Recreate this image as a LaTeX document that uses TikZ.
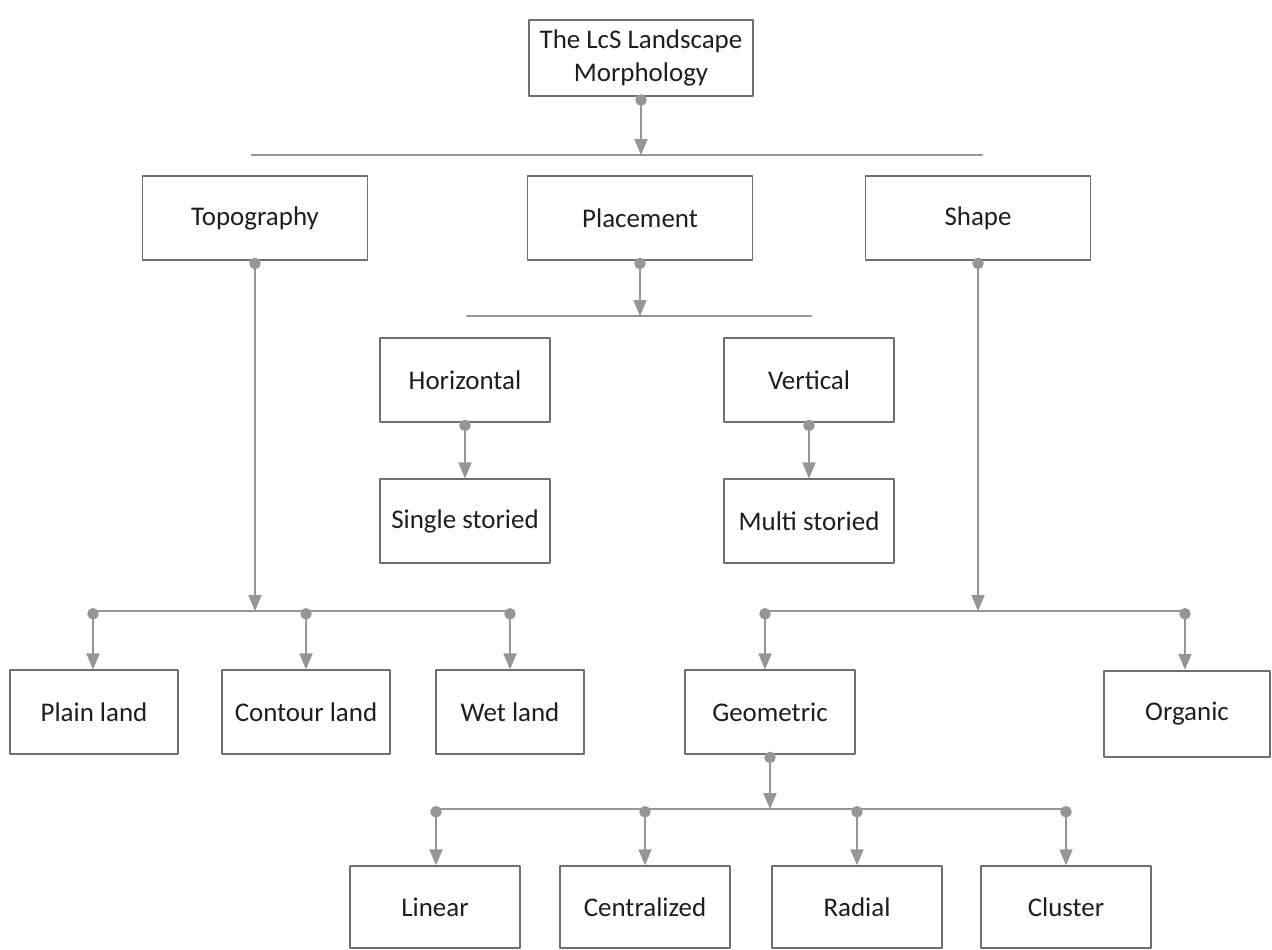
\documentclass[tikz,border=0pt]{standalone}
\usepackage{fontspec}
\setmainfont{Carlito}
\usepackage{tikz}
\usetikzlibrary{arrows}
\definecolor{boxgray}{RGB}{112,112,112}
\definecolor{linkgray}{RGB}{150,150,150}
\definecolor{textdark}{RGB}{30,30,30}
\begin{document}
\begin{tikzpicture}[line cap=round,line join=round,>=triangle 45,x=0.03cm,y=-0.03cm,
  box/.style={draw=boxgray,line width=1.6pt,fill=white,text=textdark,minimum width=5.1cm,minimum height=2.5cm,align=center,font=\fontsize{23}{28}\selectfont},
  wide/.style={minimum width=6.75cm},
  link/.style={draw=linkgray,line width=2.2pt,*->,shorten <=-2.5pt},
  bus/.style={draw=linkgray,line width=2.2pt}]
\useasboundingbox (0,0) rectangle (1272,949);
% first level
\node[box,minimum width=6.7cm,minimum height=2.3cm] (root) at (641,58) {The LcS Landscape\\Morphology};
\coordinate (busA1) at (252,155);
\coordinate (busA2) at (982,155);
\draw[bus] (busA1) -- (busA2);
\draw[link] (root.south) -- (root.south |- busA1);
\node[box,wide] (topo) at (255,218) {Topography};
\node[box,wide] (place) at (640,218) {Placement};
\node[box,wide] (shape) at (978,218) {Shape};
% placement
\coordinate (busB1) at (467,316);
\coordinate (busB2) at (811,316);
\draw[bus] (busB1) -- (busB2);
\draw[link] (place.south) -- (place.south |- busB1);
\node[box] (horiz) at (465,380) {Horizontal};
\node[box] (vert) at (809,380) {Vertical};
\node[box] (single) at (465,521) {Single storied};
\node[box] (multi) at (809,521) {Multi storied};
\draw[link] (horiz) -- (single);
\draw[link] (vert) -- (multi);
% topography
\coordinate (busC1) at (93,611);
\coordinate (busC2) at (510,611);
\coordinate (busC3) at (306,611);
\draw[bus] (busC1) -- (busC2);
\draw[link] (topo.south) -- (topo.south |- busC1);
\node[box,minimum width=5.05cm] (plain) at (94,712) {Plain land};
\node[box,minimum width=5.05cm] (contour) at (306,712) {Contour land};
\node[box,minimum width=4.45cm] (wet) at (510,712) {Wet land};
\draw[link] (busC1) -- (busC1 |- plain.north);
\draw[link] (busC3) -- (busC3 |- contour.north);
\draw[link] (busC2) -- (busC2 |- wet.north);
% shape
\coordinate (busD1) at (765,611);
\coordinate (busD2) at (1185,611);
\draw[bus] (busD1) -- (busD2);
\draw[link] (shape.south) -- (shape.south |- busD1);
\node[box] (geom) at (770,712) {Geometric};
\node[box,minimum width=5cm,minimum height=2.6cm] (organic) at (1187,714) {Organic};
\draw[link] (busD1) -- (busD1 |- geom.north);
\draw[link] (busD2) -- (busD2 |- organic.north);
% geometric
\coordinate (busE1) at (436,809);
\coordinate (busE2) at (645,809);
\coordinate (busE3) at (857,809);
\coordinate (busE4) at (1066,809);
\draw[bus] (busE1) -- (busE4);
\draw[link] (geom.south) -- (geom.south |- busE1);
\node[box,minimum height=2.45cm] (linear) at (435,907) {Linear};
\node[box,minimum height=2.45cm] (central) at (645,907) {Centralized};
\node[box,minimum height=2.45cm] (radial) at (857,907) {Radial};
\node[box,minimum height=2.45cm] (cluster) at (1066,907) {Cluster};
\draw[link] (busE1) -- (busE1 |- linear.north);
\draw[link] (busE2) -- (busE2 |- central.north);
\draw[link] (busE3) -- (busE3 |- radial.north);
\draw[link] (busE4) -- (busE4 |- cluster.north);
\end{tikzpicture}
\end{document}
